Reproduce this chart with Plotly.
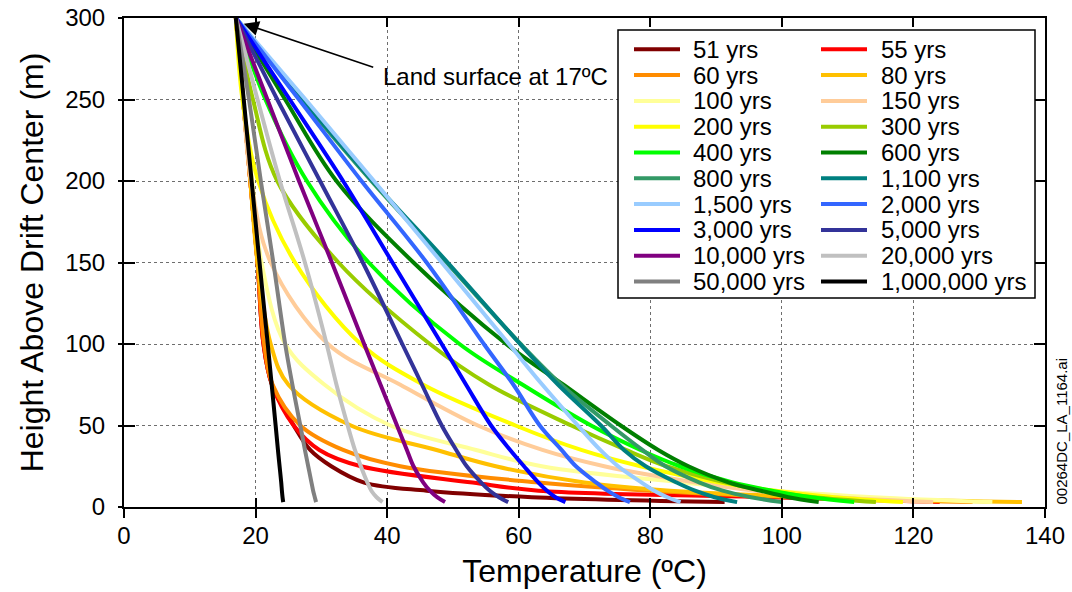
import plotly.graph_objects as go

# ---------------- data ----------------
heights = [300, 250, 200, 150, 100, 75, 50, 35, 25, 15, 10, 6, 3]

labels = ["51 yrs", "55 yrs", "60 yrs", "80 yrs", "100 yrs", "150 yrs",
          "200 yrs", "300 yrs", "400 yrs", "600 yrs", "800 yrs", "1,100 yrs",
          "1,500 yrs", "2,000 yrs", "3,000 yrs", "5,000 yrs", "10,000 yrs",
          "20,000 yrs", "50,000 yrs", "1,000,000 yrs"]

colors = ["#800000", "#FF0000", "#FF8C00", "#FFC000", "#FFFF99", "#FFCC99",
          "#FFFF00", "#99CC00", "#00FF00", "#007F00", "#339966", "#008080",
          "#99CCFF", "#3366FF", "#0000FF", "#333399", "#800080",
          "#C0C0C0", "#808080", "#000000"]

t_51 = [17, 18.1, 19.2, 20.3, 21.2, 22.5, 25.8, 28.3, 31.5, 36.5, 46, 62, 91.3]
t_55 = [17, 18.1, 19.2, 20.3, 21.2, 22.5, 25.8, 29.7, 36, 53, 63, 98, 124]
t_60 = [17, 18.1, 19.2, 20.3, 21.3, 22.6, 26.8, 33.3, 42, 63, 80, 102, 129]
t_80 = [17, 18.1, 19.2, 20.3, 22.3, 25.0, 34.5, 47.5, 56.5, 70, 83, 105, 136.5]
t_100 = [17, 18.1, 19.5, 20.9, 24.5, 30.5, 40.5, 53.5, 63.5, 85, 99, 114, 132]
t_150 = [17, 18.1, 19.3, 22.3, 31, 42, 53.8, 63.6, 73, 87, 96, 108, 123]
t_200 = [17, 18.0, 20.4, 26, 36, 45.5, 59.5, 69.5, 78.5, 90.5, 99, 108, 118.4]
t_300 = [17, 19.6, 23.3, 32.6, 46.5, 55.5, 68, 76.3, 82.5, 91.5, 97.5, 105, 114.3]
t_400 = [17, 21.5, 27.8, 37.2, 51, 60.6, 71, 78.5, 84.5, 92.5, 98.5, 104.5, 111]
t_600 = [17, 24.5, 32.3, 44, 58.1, 66.8, 75.5, 81.2, 85.8, 92, 96.8, 101, 105.6]
t_800 = [17, 27.0, 37.6, 49, 60.3, 66.5, 74, 78.8, 82.3, 87.5, 91, 95.3, 100]
t_1100 = [17, 27.2, 37.8, 49.2, 60.2, 66, 72.5, 76, 79.3, 84, 86.8, 89.8, 93.2]
t_1500 = [17, 27.6, 38, 48.3, 58.5, 63.6, 69, 72.4, 75.1, 78.7, 80.6, 82.6, 84.6]
t_2000 = [17, 26.6, 36.1, 46, 54.7, 59.2, 63.2, 66.5, 68.7, 71.8, 73.5, 75.2, 76.9]
t_3000 = [17, 25.2, 33.3, 40.8, 48.3, 52, 55.8, 58.7, 60.8, 63, 64.3, 65.6, 67.1]
t_5000 = [17, 23.3, 29.8, 36.3, 42.3, 45.3, 48.3, 50.5, 52.1, 54.3, 55.6, 57, 58.4]
t_10000 = [17, 21.8, 26.6, 31.6, 36.5, 39, 41.5, 43, 44, 45.5, 46.5, 47.6, 48.8]
t_20000 = [17, 20.3, 23.7, 27.5, 30.8, 32.3, 34, 35.1, 36, 37, 37.6, 38.4, 39.3]
t_50000 = [17, 19, 20.8, 22.7, 24.5, 25.6, 26.8, 27.5, 28, 28.5, 28.75, 29, 29.2]
t_1000000 = [17, 18.2, 19.4, 20.6, 21.85, 22.45, 23.05, 23.4, 23.65, 23.9, 24.0, 24.1, 24.2]

series = [t_51, t_55, t_60, t_80, t_100, t_150, t_200, t_300, t_400, t_600,
          t_800, t_1100, t_1500, t_2000, t_3000, t_5000, t_10000, t_20000,
          t_50000, t_1000000]

x_ticks = [0, 20, 40, 60, 80, 100, 120, 140]
y_ticks = [0, 50, 100, 150, 200, 250, 300]

# ---------------- layout constants ----------------
W, H = 1072, 592
ML, MR, MT, MB = 124, 27, 18, 85
PW, PH = W - ML - MR, H - MT - MB
FONT = "Arial, 'Liberation Sans', sans-serif"


def px2x(px):
    return (px - ML) / PW


def py2y(py):
    return (H - MB - py) / PH


fig = go.Figure()
for name, col, temps in zip(labels, colors, series):
    fig.add_trace(go.Scatter(
        x=temps, y=heights, mode="lines", name=name, showlegend=False,
        line=dict(color=col, width=4, shape="spline", smoothing=1.0),
        hoverinfo="name+x+y"))

# helper overlay axes (ticks pointing into the plot)
fig.add_trace(go.Scatter(x=[], y=[], xaxis="x2", yaxis="y2", showlegend=False))

axis_common = dict(showline=True, linecolor="black", linewidth=2,
                   tickcolor="black", tickwidth=2, zeroline=False,
                   automargin=False,
                   tickfont=dict(family=FONT, size=24, color="black"),
                   gridcolor="#6e6e6e", gridwidth=1, griddash="3px,3px")

fig.update_layout(
    width=W, height=H,
    margin=dict(l=ML, r=MR, t=MT, b=MB, autoexpand=False),
    paper_bgcolor="white", plot_bgcolor="white",
    font=dict(family=FONT, color="black"),
    xaxis=dict(range=[0, 140], tickvals=x_ticks, mirror=True, showgrid=True,
               ticks="outside", ticklen=9, ticklabelstandoff=-3,
               title=dict(text="Temperature (ºC)", standoff=12,
                          font=dict(family=FONT, size=32, color="black")),
               **axis_common),
    yaxis=dict(range=[0, 300], tickvals=y_ticks, mirror=True, showgrid=True,
               ticks="outside", ticklen=4, ticklabelstandoff=8,
               title=dict(text="Height Above Drift Center (m)", standoff=12,
                          font=dict(family=FONT, size=32, color="black")),
               **axis_common),
    xaxis2=dict(range=[0, 140], tickvals=x_ticks, overlaying="x", anchor="y2",
                ticks="inside", ticklen=9, tickwidth=2, tickcolor="black",
                mirror="ticks", showticklabels=False, showgrid=False,
                showline=False, zeroline=False, automargin=False),
    yaxis2=dict(range=[0, 300], tickvals=y_ticks, overlaying="y", anchor="x2",
                ticks="inside", ticklen=11, tickwidth=2, tickcolor="black",
                mirror="ticks", showticklabels=False, showgrid=False,
                showline=False, zeroline=False, automargin=False),
)

# ---------------- legend (two columns, row-wise) ----------------
LEG_L, LEG_R, LEG_T, LEG_B = 618, 1035, 30, 298
ROW0, ROWH = 49.3, 25.8
COL_LINE = [634, 821]
LINE_LEN = 46
COL_TEXT = [691, 879]

shapes = [dict(type="rect", xref="paper", yref="paper",
               x0=px2x(LEG_L), x1=px2x(LEG_R), y0=py2y(LEG_B), y1=py2y(LEG_T),
               line=dict(color="black", width=1.5), fillcolor="white",
               layer="above")]
annotations = []
for i, (name, col) in enumerate(zip(labels, colors)):
    r, c = divmod(i, 2)
    yy = py2y(ROW0 + r * ROWH)
    shapes.append(dict(type="line", xref="paper", yref="paper",
                       x0=px2x(COL_LINE[c]), x1=px2x(COL_LINE[c] + LINE_LEN),
                       y0=yy, y1=yy, line=dict(color=col, width=4),
                       layer="above"))
    annotations.append(dict(xref="paper", yref="paper", x=px2x(COL_TEXT[c]),
                            y=yy, text=name, showarrow=False, xanchor="left",
                            yanchor="middle",
                            font=dict(family=FONT, size=24, color="black")))

# land-surface annotation
annotations.append(dict(x=18.2, y=296.5, xref="x", yref="y", text="",
                        showarrow=True, ax=131, ay=44, axref="pixel",
                        arrowhead=2, arrowsize=2, arrowwidth=1.5,
                        arrowcolor="black"))
annotations.append(dict(x=56.4, y=264, xref="x", yref="y",
                        text="Land surface at 17ºC", showarrow=False,
                        xanchor="center", yanchor="middle",
                        font=dict(family=FONT, size=24, color="black")))

# file id at right edge
annotations.append(dict(xref="paper", yref="paper", x=px2x(1061.5),
                        y=py2y(431), text="00264DC_LA_1164.ai",
                        showarrow=False, textangle=-90,
                        xanchor="center", yanchor="middle",
                        font=dict(family=FONT, size=15, color="black")))

fig.update_layout(shapes=shapes, annotations=annotations)

fig.write_html("out.html")
